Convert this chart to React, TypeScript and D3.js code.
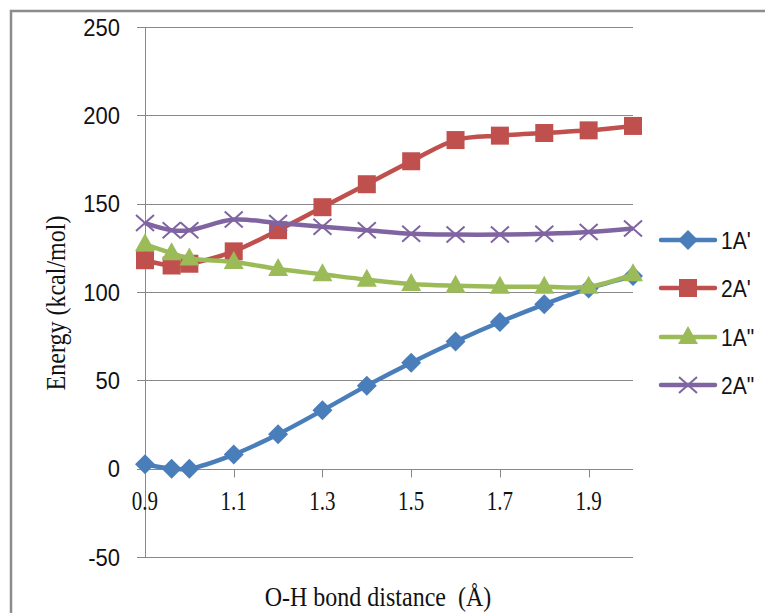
import { useRef, useEffect } from "react";
import * as d3 from "d3";

const distances = [0.9, 0.96, 1.0, 1.1, 1.2, 1.3, 1.4, 1.5, 1.6, 1.7, 1.8, 1.9, 2.0];
const series1A = [2.5, 0, 0, 8, 19.5, 33, 47, 60, 72, 83, 93, 102, 109];
const series2A = [118, 115, 116, 123, 135, 148, 161, 174, 186, 188.5, 190, 191.5, 194];
const series1A2 = [127, 122, 119, 117, 113, 110, 107, 104.5, 103.5, 103, 103, 103, 110];
const series2A2 = [139, 135, 135, 141, 139, 137, 135, 133, 132.5, 132.5, 133, 134, 136];
const seriesNames = ["1A'", "2A'", "1A\"", "2A\""];
const seriesColors = ["#4A7EBB", "#C0504D", "#9BBB59", "#8064A2"];
const markerKinds = ["diamond", "square", "triangle", "cross"];
const yTicks = [-50, 0, 50, 100, 150, 200, 250];
const xTicks = [0.9, 1.1, 1.3, 1.5, 1.7, 1.9];

const W = 765;
const H = 613;
const SERIF = "'Liberation Serif', 'Times New Roman', serif";
const SANS = "'Liberation Sans', Arial, sans-serif";

const App = () => {
  const svgRef = useRef<SVGSVGElement>(null);

  useEffect(() => {
    const svg = d3.select(svgRef.current);
    svg.selectAll("*").remove();

    const x = d3.scaleLinear().domain([0.9, 2.0]).range([145, 633]);
    const y = d3.scaleLinear().domain([-50, 250]).range([557, 27]);

    // outer frame
    svg.append("rect")
      .attr("x", 11).attr("y", 11)
      .attr("width", 900).attr("height", 900)
      .attr("fill", "white")
      .attr("stroke", "#8c8c8c")
      .attr("stroke-width", 2.5);

    // horizontal gridlines + y ticks
    svg.append("g").selectAll("line")
      .data(yTicks.filter((d) => d !== 0))
      .enter()
      .append("line")
      .attr("x1", 137).attr("x2", x(2.0))
      .attr("y1", (d) => Math.round(y(d)) + 0.5)
      .attr("y2", (d) => Math.round(y(d)) + 0.5)
      .attr("stroke", "#888")
      .attr("stroke-width", 1);

    svg.append("line")
      .attr("x1", 137).attr("x2", 145)
      .attr("y1", Math.round(y(0)) + 0.5).attr("y2", Math.round(y(0)) + 0.5)
      .attr("stroke", "#888");

    svg.selectAll(".ylab")
      .data(yTicks)
      .enter()
      .append("text")
      .attr("class", "ylab")
      .attr("transform", (d) => `translate(120,${y(d) + 8.5}) scale(1,1.12)`)
      .attr("text-anchor", "end")
      .attr("font-family", SANS)
      .attr("font-size", "22px")
      .attr("fill", "#111")
      .text((d) => String(d));

    // y axis line
    svg.append("line")
      .attr("x1", 145.5).attr("x2", 145.5)
      .attr("y1", y(250)).attr("y2", y(-50))
      .attr("stroke", "#888");

    // x axis at zero
    const x0 = Math.round(y(0)) + 0.5;
    svg.append("line")
      .attr("x1", 145).attr("x2", x(2.0))
      .attr("y1", x0).attr("y2", x0)
      .attr("stroke", "#888");
    svg.selectAll(".xtick")
      .data(xTicks)
      .enter()
      .append("line")
      .attr("class", "xtick")
      .attr("x1", (d) => Math.round(x(d)) + 0.5)
      .attr("x2", (d) => Math.round(x(d)) + 0.5)
      .attr("y1", x0).attr("y2", x0 + 8)
      .attr("stroke", "#888");
    svg.selectAll(".xlab")
      .data(xTicks)
      .enter()
      .append("text")
      .attr("class", "xlab")
      .attr("transform", (d) => `translate(${x(d)},510) scale(1,1.25)`)
      .attr("text-anchor", "middle")
      .attr("font-family", SERIF)
      .attr("font-size", "21px")
      .attr("fill", "#111")
      .text((d) => d.toFixed(1));

    // axis titles
    svg.append("text")
      .attr("transform", "translate(378,606) scale(1,1.15)")
      .attr("text-anchor", "middle")
      .attr("font-family", SERIF)
      .attr("font-size", "24px")
      .attr("fill", "#111")
      .attr("xml:space", "preserve")
      .text("O-H bond distance  (Å)");

    svg.append("text")
      .attr("transform", "translate(65,303) rotate(-90) scale(1,1.1)")
      .attr("text-anchor", "middle")
      .attr("font-family", SERIF)
      .attr("font-size", "24px")
      .attr("fill", "#111")
      .text("Energy (kcal/mol)");

    const drawMarker = (g: any, kind: string, cx: number, cy: number, color: string) => {
      if (kind === "diamond") {
        g.append("path")
          .attr("d", `M${cx},${cy - 10}L${cx + 10},${cy}L${cx},${cy + 10}L${cx - 10},${cy}Z`)
          .attr("fill", color);
      } else if (kind === "square") {
        g.append("rect")
          .attr("x", cx - 9).attr("y", cy - 9)
          .attr("width", 18).attr("height", 18)
          .attr("fill", color);
      } else if (kind === "triangle") {
        g.append("path")
          .attr("d", `M${cx},${cy - 11}L${cx + 10},${cy + 7}L${cx - 10},${cy + 7}Z`)
          .attr("fill", color);
      } else {
        g.append("path")
          .attr("d", `M${cx - 9},${cy - 8}L${cx + 9},${cy + 8}M${cx - 9},${cy + 8}L${cx + 9},${cy - 8}`)
          .attr("stroke", color)
          .attr("stroke-width", 2)
          .attr("fill", "none");
      }
    };

    const allSeries = [series1A, series2A, series1A2, series2A2];
    const line = d3.line<number>()
      .x((_, i) => x(distances[i]))
      .y((d) => y(d))
      .curve(d3.curveCatmullRom.alpha(0.5));

    allSeries.forEach((vals, si) => {
      const g = svg.append("g");
      g.append("path")
        .datum(vals)
        .attr("d", line)
        .attr("fill", "none")
        .attr("stroke", seriesColors[si])
        .attr("stroke-width", 4.5)
        .attr("stroke-linejoin", "round");
      vals.forEach((v, i) => drawMarker(g, markerKinds[si], x(distances[i]), y(v), seriesColors[si]));
    });

    // legend
    const legendY = [240, 288, 337, 385];
    seriesNames.forEach((name, si) => {
      const g = svg.append("g");
      g.append("line")
        .attr("x1", 661).attr("x2", 715)
        .attr("y1", legendY[si]).attr("y2", legendY[si])
        .attr("stroke", seriesColors[si])
        .attr("stroke-width", 4.5)
        .attr("stroke-linecap", "round");
      drawMarker(g, markerKinds[si], 688, legendY[si], seriesColors[si]);
      g.append("text")
        .attr("transform", `translate(721,${legendY[si] + 8.5}) scale(1,1.12)`)
        .attr("font-family", SANS)
        .attr("font-size", "21px")
        .attr("fill", "#111")
        .text(name);
    });
  }, []);

  return (
    <svg
      ref={svgRef}
      width={W}
      height={H}
      style={{ position: "absolute", left: 0, top: 0, display: "block" }}
    />
  );
};

export default App;
